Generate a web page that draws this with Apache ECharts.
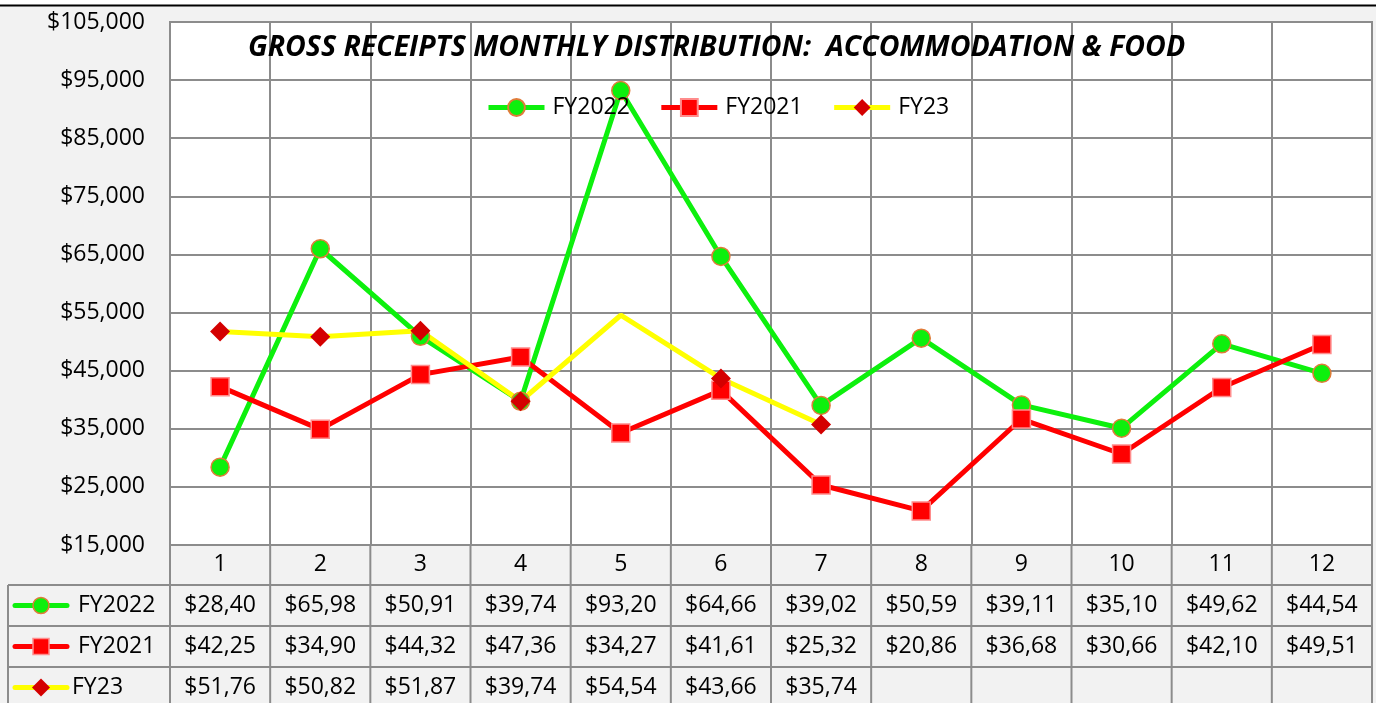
<!DOCTYPE html>
<html>
<head>
<meta charset="utf-8">
<script src="https://cdn.jsdelivr.net/npm/echarts@6/dist/echarts.min.js"></script>
<style>
  html, body { margin: 0; padding: 0; background: #f2f2f2; }
  #chart { width: 1376px; height: 703px; }
</style>
</head>
<body>
<div id="chart"></div>
<script>
// data
const months = ['1', '2', '3', '4', '5', '6', '7', '8', '9', '10', '11', '12'];
const fy2022 = [28400, 65980, 50910, 39740, 93200, 64660, 39020, 50590, 39110, 35100, 49620, 44540];
const fy2021 = [42250, 34900, 44320, 47360, 34270, 41610, 25320, 20860, 36680, 30660, 42100, 49510];
const fy23 = [51760, 50820, 51870, 39740, 54540, 43660, 35740];
const fy23NoMarker = [4]; // month 5 has no marker
const yMin = 15000, yMax = 105000, yStep = 10000;

const font = '"Open Sans", "Noto Sans", sans-serif';
const fs = 23;
const gridColor = '#8c8c8c';

// $28,40 style - the table cuts the last digit off
const cellText = v => '$' + Math.floor(v / 1000) + ',' + String(v % 1000).padStart(3, '0').slice(0, 2);
const axisText = v => '$' + v.toLocaleString('en-US');

const chart = echarts.init(document.getElementById('chart'));

const option = {
  backgroundColor: '#f2f2f2',
  animation: false,
  title: {
    text: 'GROSS RECEIPTS MONTHLY DISTRIBUTION:  ACCOMMODATION & FOOD',
    left: 243,
    top: 28,
    textStyle: { fontFamily: font, fontSize: 28.5, fontWeight: 'bold', fontStyle: 'italic', color: '#000' }
  },
  legend: {
    left: 486,
    top: 96,
    padding: 0,
    itemWidth: 56,
    itemHeight: 21,
    itemGap: 29,
    lineStyle: { width: 5 },
    textStyle: { fontFamily: font, fontSize: fs, color: '#000', padding: [0, 0, 0, 3] },
    data: ['FY2022', 'FY2021', 'FY23']
  },
  grid: {
    left: 170, right: 4, top: 22, bottom: 158,
    show: true, backgroundColor: '#fff', borderColor: gridColor, borderWidth: 2
  },
  xAxis: {
    type: 'category',
    data: months,
    axisLine: { show: false },
    axisTick: { show: false },
    axisLabel: { margin: 8, fontFamily: font, fontSize: fs, color: '#000' },
    splitLine: { show: true, lineStyle: { color: gridColor, width: 2 } }
  },
  yAxis: {
    type: 'value',
    min: yMin, max: yMax, interval: yStep,
    axisLine: { show: false },
    axisTick: { show: false },
    axisLabel: { margin: 25, fontFamily: font, fontSize: fs, color: '#000', formatter: axisText },
    splitLine: { lineStyle: { color: gridColor, width: 2 } }
  },
  series: [
    {
      name: 'FY2022', type: 'line', data: fy2022,
      symbol: 'circle', symbolSize: 18,
      lineStyle: { color: '#0df00d', width: 5 },
      itemStyle: { color: '#0df00d', borderColor: '#e07b39', borderWidth: 1.5 }
    },
    {
      name: 'FY2021', type: 'line', data: fy2021,
      symbol: 'rect', symbolSize: 18,
      lineStyle: { color: '#ff0000', width: 5 },
      itemStyle: { color: '#ff0000', borderColor: '#ff8c8c', borderWidth: 1.5 }
    },
    {
      name: 'FY23', type: 'line',
      data: fy23.map((v, i) => fy23NoMarker.includes(i) ? { value: v, symbol: 'none' } : v),
      symbol: 'diamond', symbolSize: 20,
      lineStyle: { color: '#ffff00', width: 5 },
      itemStyle: { color: '#d40000' }
    }
  ]
};

chart.setOption(option);

// data table under the plot, lined up with the category columns
const xs = months.map(m => chart.convertToPixel({ xAxisIndex: 0 }, m));
const band = xs[1] - xs[0];
const colL = xs[0] - band / 2;
const colR = xs[xs.length - 1] + band / 2;
const plotBottom = chart.convertToPixel({ yAxisIndex: 0 }, yMin);
const tableTop = plotBottom + 40;
const rowH = 41;
const tableLeft = 8;
const tableBottom = 703;

const rows = [
  { name: 'FY2022', data: fy2022, key: 'circle', line: '#0df00d', fill: '#0df00d', border: '#e07b39', textX: 78 },
  { name: 'FY2021', data: fy2021, key: 'rect', line: '#ff0000', fill: '#ff0000', border: '#ff8c8c', textX: 78 },
  { name: 'FY23', data: fy23, key: 'diamond', line: '#ffff00', fill: '#d40000', border: null, textX: 72 }
];

const g = [];
const stroke = { stroke: gridColor, lineWidth: 2 };

// top frame line
g.push({ type: 'rect', shape: { x: 0, y: 0, width: 1376, height: 5 }, style: { fill: '#fff' } });
g.push({ type: 'line', shape: { x1: 0, y1: 5.5, x2: 1376, y2: 5.5 }, style: { stroke: '#000', lineWidth: 2 } });

// vertical column lines through the category row and table
for (let i = 0; i <= months.length; i++) {
  const x = colL + band * i;
  g.push({ type: 'line', shape: { x1: x, y1: plotBottom, x2: x, y2: tableBottom }, style: stroke });
}
g.push({ type: 'line', shape: { x1: tableLeft, y1: tableTop, x2: tableLeft, y2: tableBottom }, style: stroke });
for (let r = 0; r < rows.length; r++) {
  const y = tableTop + rowH * r;
  g.push({ type: 'line', shape: { x1: tableLeft, y1: y, x2: colR, y2: y }, style: stroke });
}

rows.forEach((row, r) => {
  const cy = tableTop + rowH * r + rowH / 2;
  // legend key
  g.push({ type: 'line', shape: { x1: 15, y1: cy, x2: 67, y2: cy }, style: { stroke: row.line, lineWidth: 5, lineCap: 'round' } });
  if (row.key === 'circle') {
    g.push({ type: 'circle', shape: { cx: 41, cy: cy, r: 8 }, style: { fill: row.fill, stroke: row.border, lineWidth: 1.5 } });
  } else if (row.key === 'rect') {
    g.push({ type: 'rect', shape: { x: 33, y: cy - 8, width: 16, height: 16 }, style: { fill: row.fill, stroke: row.border, lineWidth: 1.5 } });
  } else {
    g.push({ type: 'polygon', shape: { points: [[41, cy - 9], [50, cy], [41, cy + 9], [32, cy]] }, style: { fill: row.fill } });
  }
  g.push({ type: 'text', style: { text: row.name, x: row.textX, y: cy, verticalAlign: 'middle', font: fs + 'px ' + font, fill: '#000' } });
  row.data.forEach((v, i) => {
    g.push({ type: 'text', style: { text: cellText(v), x: xs[i], y: cy, align: 'center', verticalAlign: 'middle', font: fs + 'px ' + font, fill: '#000' } });
  });
});

chart.setOption({ graphic: g });
</script>
</body>
</html>
